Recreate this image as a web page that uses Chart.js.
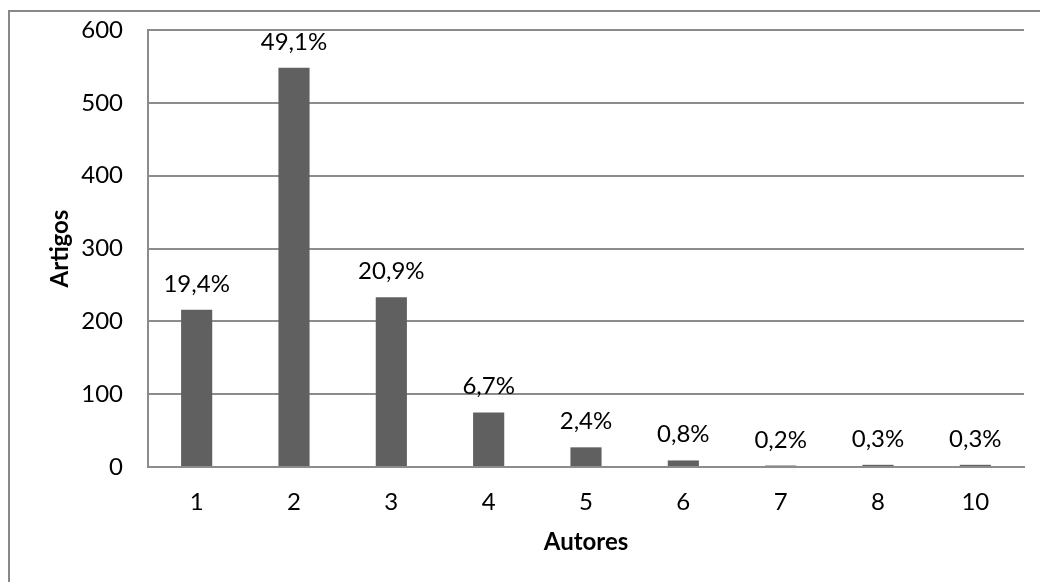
<!DOCTYPE html>
<html>
<head>
<meta charset="utf-8">
<script src="https://cdn.jsdelivr.net/npm/chart.js@4/dist/chart.umd.min.js"></script>
<style>
  html, body { margin: 0; padding: 0; background: #fff; }
  #wrap { position: absolute; left: 0; top: 0; width: 1040px; height: 582px; }
</style>
</head>
<body>
<div id="wrap"><canvas id="chart"></canvas></div>
<script>
// Number of authors per article and how many articles have that count
const authorCounts = ['1', '2', '3', '4', '5', '6', '7', '8', '10'];
const articleCounts = [216, 548, 233, 75, 27, 9, 2, 3, 3];
const yTicks = [0, 100, 200, 300, 400, 500, 600];

const total = articleCounts.reduce((a, b) => a + b, 0);
const shareLabels = articleCounts.map(v => (v / total * 100).toFixed(1).replace('.', ',') + '%');

const FONT = 'Lato, "Open Sans", sans-serif';
const FONT_SIZE = 24;
const GRID = '#8c8c8c';

// White page with the frame around the chart
const frame = {
  id: 'frame',
  beforeDraw(chart) {
    const ctx = chart.ctx;
    ctx.save();
    ctx.fillStyle = '#fff';
    ctx.fillRect(0, 0, chart.width, chart.height);
    ctx.strokeStyle = '#888888';
    ctx.lineWidth = 2;
    ctx.strokeRect(9, 11, 1200, 800);
    ctx.restore();
  }
};

// Share of the total written above each bar
const shareText = {
  id: 'shareText',
  afterDatasetsDraw(chart) {
    const ctx = chart.ctx;
    const meta = chart.getDatasetMeta(0);
    ctx.save();
    ctx.font = FONT_SIZE + 'px ' + FONT;
    ctx.fillStyle = '#000';
    ctx.textAlign = 'center';
    ctx.textBaseline = 'alphabetic';
    meta.data.forEach((bar, i) => {
      ctx.fillText(shareLabels[i], bar.x, bar.y - 18);
    });
    ctx.restore();
  }
};

new Chart(document.getElementById('chart'), {
  type: 'bar',
  data: {
    labels: authorCounts,
    datasets: [{
      label: 'Artigos',
      data: articleCounts,
      backgroundColor: '#606060',
      borderWidth: 0,
      categoryPercentage: 1,
      barPercentage: 0.32
    }]
  },
  options: {
    responsive: true,
    maintainAspectRatio: false,
    animation: false,
    events: [],
    layout: { padding: { top: 30, right: 16, bottom: 0, left: 0 } },
    plugins: {
      legend: { display: false },
      tooltip: { enabled: false }
    },
    scales: {
      x: {
        grid: { display: false, drawTicks: false },
        border: { display: true, color: GRID, width: 2 },
        ticks: { color: '#000', font: { family: FONT, size: FONT_SIZE }, padding: 21, maxRotation: 0 },
        title: { display: true, text: 'Autores', color: '#000', font: { family: FONT, size: FONT_SIZE, weight: 'bold' }, padding: { top: 0, bottom: 25 } },
        afterFit(scale) { scale.height = 115; }
      },
      y: {
        min: 0,
        max: 600,
        afterBuildTicks(scale) { scale.ticks = yTicks.map(v => ({ value: v })); },
        grid: { color: GRID, lineWidth: 2, drawTicks: false },
        border: { display: true, color: GRID, width: 2 },
        ticks: { color: '#000', font: { family: FONT, size: FONT_SIZE }, padding: 25 },
        title: { display: true, text: 'Artigos', color: '#000', font: { family: FONT, size: FONT_SIZE, weight: 'bold' }, padding: { top: 46, bottom: 0 } },
        afterFit(scale) {
          scale.width = 148;
          // the top label fits inside the layout padding already
          scale.paddingTop = 0;
          scale.paddingBottom = 0;
        }
      }
    }
  },
  plugins: [frame, shareText]
});
</script>
</body>
</html>
